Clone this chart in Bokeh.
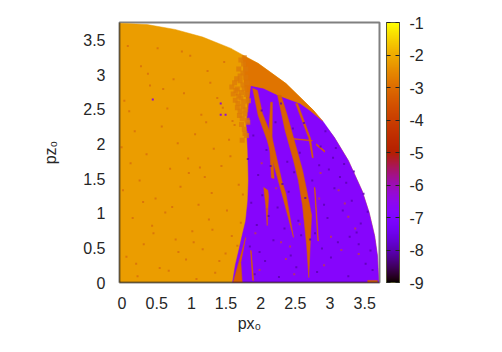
import math
from bokeh.plotting import figure
from bokeh.models import (ColorBar, LinearColorMapper, FixedTicker, Range1d, LinearAxis,
                          ColumnDataSource)
from bokeh.transform import transform
from bokeh.embed import file_html
from bokeh.resources import INLINE

# boundary of the filled quarter disc
edge_x = [0, 0.4, 0.8, 1.2, 1.6, 2.0, 2.4, 2.8, 3.1, 3.3, 3.5, 3.6, 3.68, 3.72, 3.74]
edge_y = [3.74, 3.72, 3.65, 3.54, 3.38, 3.16, 2.87, 2.48, 2.09, 1.76, 1.32, 1.01, 0.67, 0.39, 0]

disc_x = [0] + edge_x
disc_y = [0] + edge_y

purple_x = [1.63, 1.67, 1.72, 1.77, 1.82, 1.85, 1.86, 1.85, 1.83, 1.85, 1.89, 2.08, 2.29, 2.61, 2.75, 2.93,
            3.1, 3.3, 3.5, 3.6, 3.68, 3.72, 3.74]
purple_y = [0, 0.25, 0.46, 0.68, 0.89, 1.18, 1.47, 1.90, 2.26, 2.52, 2.84, 2.80, 2.70, 2.58, 2.48, 2.33,
            2.09, 1.76, 1.32, 1.01, 0.67, 0.39, 0]

cap_x = [1.78, 2.0, 2.4, 2.8, 2.93, 2.75, 2.61, 2.29, 2.08, 1.89, 1.85, 1.80]
cap_y = [3.27, 3.16, 2.87, 2.48, 2.33, 2.48, 2.58, 2.70, 2.80, 2.84, 2.50, 2.84]

streak_a_x = [1.92, 2.00, 2.13, 2.21, 2.29, 2.37, 2.51, 2.40, 2.34, 2.20, 2.06, 1.99]
streak_a_y = [2.80, 2.41, 2.05, 1.76, 1.47, 1.18, 0.65, 1.28, 1.47, 2.09, 2.44, 2.77]
streak_b_x = [2.28, 2.39, 2.51, 2.58, 2.64, 2.70, 2.73, 2.75, 2.77, 2.70, 2.64, 2.52, 2.42, 2.33]
streak_b_y = [2.70, 2.19, 1.76, 1.47, 1.11, 0.53, 0.07, 0.53, 0.97, 1.33, 1.62, 2.05, 2.41, 2.70]
streak_c_x = [2.18, 2.16, 2.165, 2.19, 2.23, 2.20, 2.205]
streak_c_y = [2.60, 2.26, 1.98, 1.51, 1.50, 1.98, 2.60]
streak_d_x = [2.08, 2.11, 2.13, 2.15, 2.14]
streak_d_y = [1.37, 1.11, 0.82, 1.25, 1.33]
streak_e_x = [2.54, 2.73, 2.78, 2.795, 2.755, 2.57]
streak_e_y = [2.58, 2.08, 1.80, 1.80, 2.08, 2.58]
streak_f_x = [2.48, 2.78, 2.78, 2.48]
streak_f_y = [2.08, 2.05, 2.04, 2.07]
streak_g_x = [2.84, 2.96, 2.96, 2.84]
streak_g_y = [2.00, 1.90, 1.88, 1.98]
streak_h_x = [1.82, 1.72, 1.64, 1.77, 1.75]
streak_h_y = [0.65, 0.29, 0.0, 0.0, 0.29]
streak_i_x = [1.89, 1.92, 1.935, 1.90]
streak_i_y = [0.46, 0.03, 0.03, 0.46]
streak_j_x = [2.81, 2.86, 2.87, 2.82]
streak_j_y = [1.37, 0.60, 0.60, 1.37]
strip_x = [3.58, 3.72, 3.72, 3.58]
strip_y = [0, 0, 0.03, 0.03]

# log-values of the regions, read against the colour bar
value_disc = -2.2
value_purple = -6.8
value_cap = -2.85
value_streak = -3.25

# scattered darker cells in the orange part
orange_speck_x = [0.12, 0.31, 0.55, 0.78, 1.02, 1.27, 1.51, 1.69, 0.07, 0.44, 0.69, 0.93, 1.18, 1.41, 1.63,
                  0.22, 0.61, 0.84, 1.09, 1.36, 1.58, 0.16, 0.39, 0.73, 0.99, 1.23, 1.47, 1.72, 0.05, 0.29,
                  0.52, 0.88, 1.14, 1.33, 1.55, 0.19, 0.47, 0.66, 1.05, 1.29, 1.62, 0.35, 0.81, 1.2, 1.44,
                  0.1, 0.58, 0.96, 1.38, 1.75, 0.26, 0.71, 1.11, 1.53, 0.41, 0.9, 1.31, 1.66, 0.14, 0.63,
                  1.0, 1.25, 1.49, 0.34, 0.76, 1.16, 1.6, 0.03, 0.49, 1.07, 1.78, 0.24, 0.85, 1.34, 1.7]
orange_speck_y = [3.41, 3.12, 3.38, 2.93, 3.27, 3.05, 3.18, 2.71, 2.62, 2.84, 2.51, 2.73, 2.42, 2.66, 2.33,
                  2.18, 2.25, 2.01, 2.14, 1.93, 2.06, 1.72, 1.85, 1.64, 1.79, 1.52, 1.68, 1.41, 1.33, 1.47,
                  1.21, 1.38, 1.12, 1.29, 1.04, 0.93, 0.82, 1.01, 0.74, 0.91, 0.67, 0.55, 0.62, 0.48, 0.31,
                  0.37, 0.21, 0.33, 0.14, 0.86, 0.09, 0.17, 0.05, 0.42, 3.01, 3.33, 2.88, 2.27, 2.47, 2.79,
                  1.58, 2.31, 2.52, 1.16, 1.09, 1.66, 1.82, 1.95, 0.71, 0.58, 1.27, 0.27, 0.44, 0.76, 0.53]

# darker cluster left of the violet tip
patch_speck_x = [1.62, 1.66, 1.7, 1.74, 1.78, 1.82, 1.64, 1.68, 1.72, 1.76, 1.8, 1.84, 1.67, 1.71, 1.75, 1.79, 1.83,
                 1.7, 1.74, 1.78, 1.82, 1.86, 1.73, 1.77, 1.81, 1.85, 1.76, 1.8, 1.84, 1.78, 1.82, 1.74, 1.79, 1.75,
                 1.81, 1.77, 1.83, 1.72, 1.69, 1.8]
patch_speck_y = [2.82, 2.88, 2.79, 2.91, 2.85, 2.96, 2.72, 2.77, 2.69, 2.74, 2.79, 2.88, 2.63, 2.58, 2.66, 2.61, 2.71,
                 2.52, 2.47, 2.54, 2.49, 2.62, 2.41, 2.36, 2.43, 2.31, 2.28, 2.21, 2.34, 3.02, 3.08, 2.98, 3.15, 3.21,
                 2.15, 2.05, 2.12, 3.08, 2.94, 3.24]

# scattered darker cells in the violet part
violet_speck_x = [1.95, 2.1, 2.3, 2.55, 2.85, 3.05, 3.3, 3.55, 1.88, 2.02, 2.22, 2.47, 2.62, 2.92, 3.15, 3.42,
                  3.62, 1.98, 2.15, 2.38, 2.58, 2.82, 3.0, 3.22, 3.48, 1.9, 2.06, 2.28, 2.44, 2.68, 2.95, 3.1,
                  3.35, 3.58, 2.0, 2.18, 2.35, 2.52, 2.78, 3.02, 3.27, 3.52, 1.85, 2.12, 2.42, 2.6, 2.88, 3.18,
                  3.38, 1.93, 2.25, 2.5, 2.9, 3.08, 3.45, 3.65, 2.05, 2.33, 2.66, 3.24, 3.12, 2.97, 3.32, 2.75]
violet_speck_y = [0.12, 0.31, 0.08, 0.22, 0.15, 0.36, 0.09, 0.27, 0.52, 0.44, 0.61, 0.39, 0.68, 0.49, 0.58, 0.72,
                  0.46, 0.83, 0.96, 0.78, 0.89, 0.71, 0.93, 1.04, 0.85, 1.15, 1.26, 1.08, 1.31, 1.22, 1.12, 1.36,
                  1.18, 1.02, 1.55, 1.68, 1.42, 1.59, 1.47, 1.63, 1.44, 1.28, 1.78, 1.91, 1.74, 1.87, 1.69, 1.52,
                  1.6, 2.12, 2.31, 2.22, 1.96, 1.8, 0.55, 0.18, 2.48, 2.58, 2.3, 1.71, 1.94, 2.18, 0.66, 0.62]

# a few orange-red cells inside the violet part
red_speck_x = [2.02, 2.4, 2.95, 3.2, 3.45, 1.96, 2.33, 2.6, 3.05, 3.3, 2.12, 2.52, 2.88, 3.16, 3.4, 2.26, 2.9, 3.25, 2.05, 2.46]
red_speck_y = [0.18, 0.34, 0.25, 0.47, 0.41, 0.71, 0.58, 0.84, 0.66, 0.95, 1.06, 0.12, 1.21, 1.33, 0.78, 1.36, 1.58, 1.14, 1.72, 0.52]

# specks of violet in the orange part
stray_x = [0.48, 1.46, 1.46, 1.53]
stray_y = [2.64, 2.42, 2.58, 2.42]

cbar_ticks = [-9, -8, -7, -6, -5, -4, -3, -2, -1]
cbar_labels = ["-9", "-8", "-7", "-6", "-5", "-4", "-3", "-2", "-1"]
tick_values = [0, 0.5, 1, 1.5, 2, 2.5, 3, 3.5]


def gnuplot_color(t):
    r = math.sqrt(t)
    g = t ** 3
    b = max(0.0, math.sin(2 * math.pi * t))
    return "#%02x%02x%02x" % (round(255 * r), round(255 * g), round(255 * b))


palette = [gnuplot_color(i / 255) for i in range(256)]
mapper = LinearColorMapper(palette=palette, low=-9, high=-1)

p = figure(width=494, height=344, x_range=Range1d(0, 3.75), y_range=Range1d(0, 3.75),
           output_backend="svg", toolbar_location=None, x_axis_location=None, y_axis_location=None,
           min_border_left=119, min_border_right=115, min_border_top=22, min_border_bottom=62,
           background_fill_color="white", border_fill_color="white")
p.grid.visible = False
p.outline_line_color = "#808080"
p.outline_line_width = 2

FONT = "Liberation Sans"
TXT = "#262626"

# labels sit a little to the right of their true position in the reference
p.extra_x_ranges["labels"] = Range1d(-0.036, 3.714)
xaxis = LinearAxis(x_range_name="labels", ticker=FixedTicker(ticks=tick_values),
                   axis_label="px\u2080", axis_label_standoff=3)
yaxis = LinearAxis(ticker=FixedTicker(ticks=tick_values),
                   axis_label="pz\u2080", axis_label_standoff=21)
for ax in (xaxis, yaxis):
    ax.axis_line_color = None
    ax.major_tick_line_color = None
    ax.minor_tick_line_color = None
    ax.major_label_text_font = FONT
    ax.major_label_text_font_size = "16px"
    ax.major_label_text_color = TXT
    ax.major_label_standoff = 8
    ax.axis_label_text_font = FONT
    ax.axis_label_text_font_size = "16px"
    ax.axis_label_text_font_style = "normal"
    ax.axis_label_text_color = TXT
p.add_layout(xaxis, "below")
p.add_layout(yaxis, "left")

regions = ColumnDataSource(dict(
    xs=[disc_x, purple_x, cap_x, streak_a_x, streak_b_x, streak_c_x, streak_d_x, streak_e_x, streak_f_x,
        streak_g_x, streak_h_x, streak_i_x, streak_j_x, strip_x],
    ys=[disc_y, purple_y, cap_y, streak_a_y, streak_b_y, streak_c_y, streak_d_y, streak_e_y, streak_f_y,
        streak_g_y, streak_h_y, streak_i_y, streak_j_y, strip_y],
    v=[value_disc, value_purple, value_cap] + [value_streak] * 11,
))
p.patches("xs", "ys", source=regions, fill_color=transform("v", mapper), line_color=transform("v", mapper), line_width=0.5)

p.scatter(orange_speck_x, orange_speck_y, marker="square", size=2, color="#d9720a", line_color=None, alpha=0.9)
p.scatter(patch_speck_x, patch_speck_y, marker="square", size=5, color="#dc7a08", line_color=None, alpha=0.75)
p.scatter(violet_speck_x, violet_speck_y, marker="square", size=2, color="#5b00b0", line_color=None, alpha=0.8)
p.scatter(red_speck_x, red_speck_y, marker="square", size=2, color="#c03a50", line_color=None, alpha=0.8)
p.scatter(stray_x, stray_y, marker="square", size=2, color="#9010d0", line_color=None)

# frame: black on the left and bottom, grey elsewhere
p.line([0, 0], [0, 3.75], line_color="#1a1a1a", line_width=1.5)
p.line([0, 3.75], [0, 0], line_color="#1a1a1a", line_width=1.5)

bar = ColorBar(color_mapper=mapper, ticker=FixedTicker(ticks=cbar_ticks), width=13, height=260,
               major_label_overrides=dict(zip(cbar_ticks, cbar_labels)),
               location=(7, 0), padding=0, margin=0, label_standoff=10,
               major_label_text_font=FONT, major_label_text_font_size="16px",
               major_label_text_color=TXT, major_tick_in=13, major_tick_out=0,
               major_tick_line_color="#222222", major_tick_line_dash="4 5", major_tick_line_width=1,
               bar_line_color="#555533", bar_line_width=1, border_line_color=None,
               background_fill_color=None, minor_tick_line_color=None)
p.add_layout(bar, "right")

open("out.html", "w").write(file_html(p, INLINE))
